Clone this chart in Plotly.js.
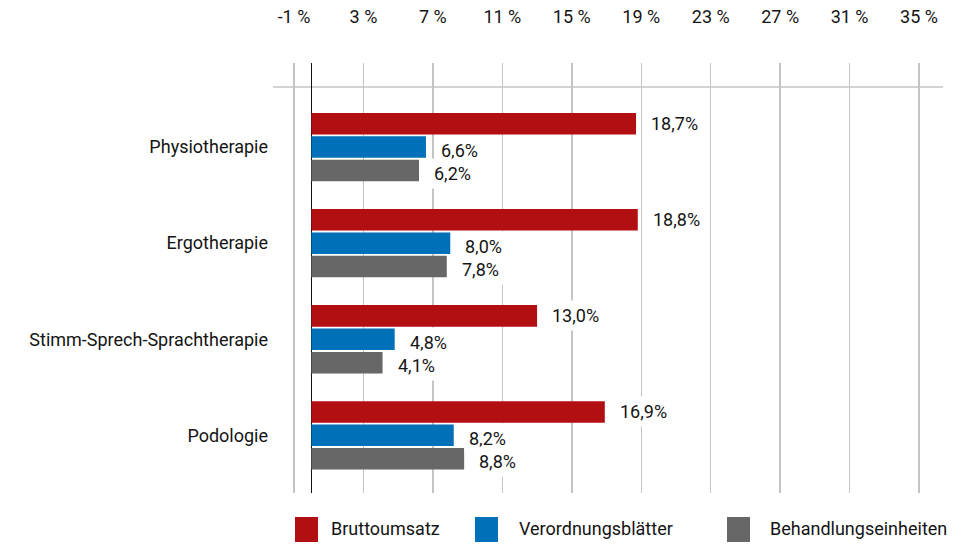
<!DOCTYPE html>
<html>
<head>
<meta charset="utf-8">
<script src="https://cdn.plot.ly/plotly-3.0.1.min.js"></script>
<style>html,body{margin:0;padding:0;background:#fff;}#chart{width:970px;height:544px;}</style>
</head>
<body>
<div id="chart"></div>
<script>
const categories = ['Physiotherapie', 'Ergotherapie', 'Stimm-Sprech-Sprachtherapie', 'Podologie'];
const seriesNames = ['Bruttoumsatz', 'Verordnungsblätter', 'Behandlungseinheiten'];
const bruttoumsatz = [18.7, 18.8, 13.0, 16.9];
const verordnungsblaetter = [6.6, 8.0, 4.8, 8.2];
const behandlungseinheiten = [6.2, 7.8, 4.1, 8.8];
const tickVals = [-1, 3, 7, 11, 15, 19, 23, 27, 31, 35];
const tickText = ['-1 %', '3 %', '7 %', '11 %', '15 %', '19 %', '23 %', '27 %', '31 %', '35 %'];

const colors = ['#B20F12', '#0070B8', '#676767'];
const seriesValues = [bruttoumsatz, verordnungsblaetter, behandlungseinheiten];
const labelShift = [24, -3, -26];
const FONT = 'Roboto, "Liberation Sans", sans-serif';
const FS = 18;
const TXT = '#141414';
const mkFont = () => ({family: FONT, size: FS, color: TXT});

const traces = seriesValues.map((vals, i) => ({
  type: 'bar',
  orientation: 'h',
  name: seriesNames[i],
  x: vals,
  y: categories,
  marker: {color: colors[i], line: {width: 0}},
  showlegend: false,
  hoverinfo: 'x+y+name'
}));

const fmt = v => v.toFixed(1).replace('.', ',') + '%';
const annotations = [];
seriesValues.forEach((vals, i) => {
  vals.forEach((v, j) => {
    annotations.push({
      x: v, y: categories[j], xref: 'x', yref: 'y',
      text: fmt(v), showarrow: false,
      xanchor: 'left', yanchor: 'middle',
      xshift: 10, yshift: labelShift[i],
      bgcolor: '#ffffff', borderpad: 4,
      font: mkFont()
    });
  });
});

// legend key (layout decoration, paper coordinates)
const legendKeyX = [[0.0328, 0.0672], [0.3015, 0.3358], [0.6776, 0.7119]];
const legendTextX = [0.0836, 0.3642, 0.7388];
const shapes = [{
  type: 'line', xref: 'paper', yref: 'paper', x0: 0, x1: 1, y0: 0.944, y1: 0.944,
  line: {color: '#c4c4c4', width: 1.5}, layer: 'below'
}];
seriesNames.forEach((name, i) => {
  shapes.push({
    type: 'rect', xref: 'paper', yref: 'paper',
    x0: legendKeyX[i][0], x1: legendKeyX[i][1], y0: -0.114, y1: -0.0558,
    fillcolor: colors[i], line: {width: 0}
  });
  annotations.push({
    xref: 'paper', yref: 'paper', x: legendTextX[i], y: -0.0837,
    xanchor: 'left', yanchor: 'middle', showarrow: false,
    text: name, font: mkFont()
  });
});

const layout = {
  width: 970, height: 544,
  margin: {l: 273, r: 27, t: 63, b: 51},
  paper_bgcolor: '#ffffff', plot_bgcolor: '#ffffff',
  font: mkFont(),
  barmode: 'group', bargap: 0.27, bargroupgap: 0.08,
  showlegend: false,
  xaxis: {
    side: 'top', range: [-2.21, 36.38],
    tickmode: 'array', tickvals: tickVals, ticktext: tickText,
    showgrid: true, gridcolor: '#c4c4c4', gridwidth: 1.5,
    zeroline: true, zerolinecolor: '#111111', zerolinewidth: 1.5,
    showline: false, ticks: '', ticklabelstandoff: 35,
    tickfont: mkFont(), fixedrange: true
  },
  yaxis: {
    type: 'category', range: [3.6, -0.875],
    showgrid: false, zeroline: false, showline: false, ticks: '',
    tickfont: mkFont(), ticklabelstandoff: 4, fixedrange: true
  },
  shapes: shapes,
  annotations: annotations
};

Plotly.newPlot('chart', traces, layout, {displayModeBar: false, staticPlot: true});
</script>
</body>
</html>
